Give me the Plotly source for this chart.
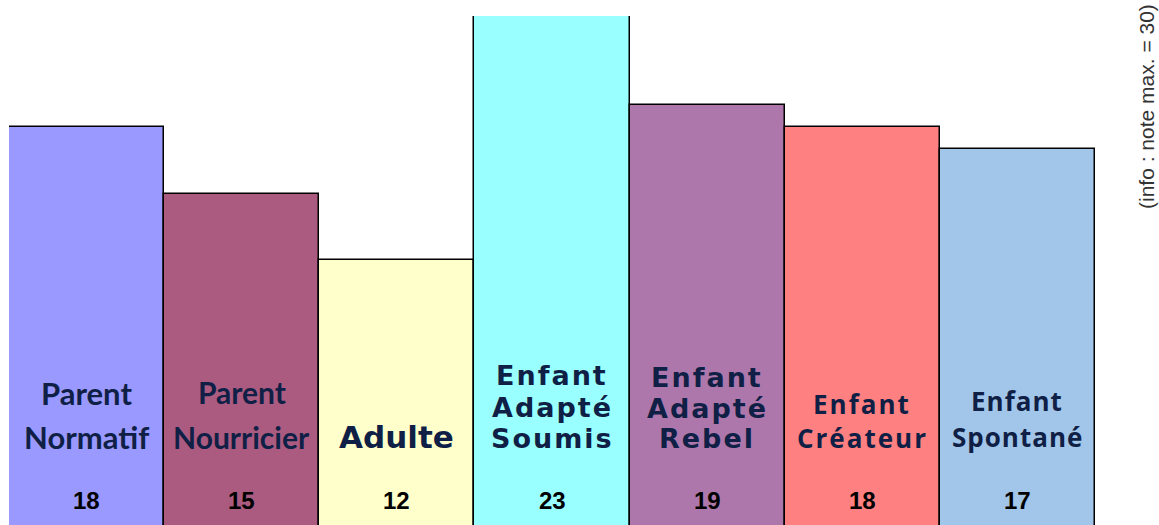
import plotly.graph_objects as go

categories = ["Parent Normatif", "Parent Nourricier", "Adulte", "Enfant Adapté Soumis",
              "Enfant Adapté Rebel", "Enfant Créateur", "Enfant Spontané"]
values = [18, 15, 12, 23, 19, 18, 17]
label_lines = [["Parent", "Normatif"], ["Parent", "Nourricier"], ["Adulte"],
               ["Enfant", "Adapté", "Soumis"], ["Enfant", "Adapté", "Rebel"],
               ["Enfant", "Créateur"], ["Enfant", "Spontané"]]
colors = ["#9999ff", "#ab5b7f", "#ffffcc", "#99ffff", "#ae77ab", "#ff8080", "#a2c5ea"]

W, H = 1159, 525
ml, mr, mt, mb = 9, 1159 - 1095, 16, 0
ph = H - mt - mb
pw = W - ml - mr

def py(p):  # window pixel y -> paper y
    return (H - mb - p) / ph

def px(p):  # window pixel x -> paper x
    return (p - ml) / pw

fig = go.Figure(go.Bar(
    x=categories, y=values, marker=dict(color=colors, line=dict(color="#000000", width=1.5)),
    hoverinfo="skip"))

# (family, size, weight, letter spacing px, line y positions)
styles = [
    ("Lato", 31, "bold", 0, [393, 437]),
    ("Lato", 30, "bold", 0, [392, 437]),
    ("DejaVu Sans", 31, "bold", 0, [437]),
    ("DejaVu Sans", 27, "bold", 2, [375, 407, 438]),
    ("DejaVu Sans", 27, "bold", 2, [377, 408, 438]),
    ("Open Sans", 26, "bold", 2, [404, 438]),
    ("Open Sans", 26, "bold", 1, [401, 437]),
]

for cat, lines, (fam, size, wt, ls, ys) in zip(categories, label_lines, styles):
    for line, y in zip(lines, ys):
        txt = line if ls == 0 else f'<span style="letter-spacing:{ls}px">{line}</span>'
        fig.add_annotation(x=cat, xref="x", y=py(y), yref="paper", text=txt, showarrow=False,
                           font=dict(family=fam, size=size, color="#0f1f45", weight=wt),
                           xanchor="center", yanchor="middle")

for cat, v in zip(categories, values):
    fig.add_annotation(x=cat, xref="x", y=py(500), yref="paper", text=str(v), showarrow=False,
                       font=dict(family="Liberation Sans", size=24, color="#000000", weight="bold"),
                       xanchor="center", yanchor="middle")

fig.add_annotation(x=px(1146), xref="paper", y=py(107), yref="paper",
                   text="(info : note max. = 30)", showarrow=False, textangle=-90,
                   font=dict(family="Liberation Sans", size=21, color="#333333"),
                   xanchor="center", yanchor="middle")

fig.update_layout(
    width=W, height=H, margin=dict(l=ml, r=mr, t=mt, b=mb, pad=0),
    paper_bgcolor="white", plot_bgcolor="white", bargap=0, showlegend=False,
    xaxis=dict(visible=False, showgrid=False, zeroline=False),
    yaxis=dict(visible=False, range=[0.07, 23], showgrid=False, zeroline=False),
)

fig.write_html("out.html", config={"displayModeBar": False},
               post_script="document.body.style.margin='0';document.body.style.overflow='hidden';")
